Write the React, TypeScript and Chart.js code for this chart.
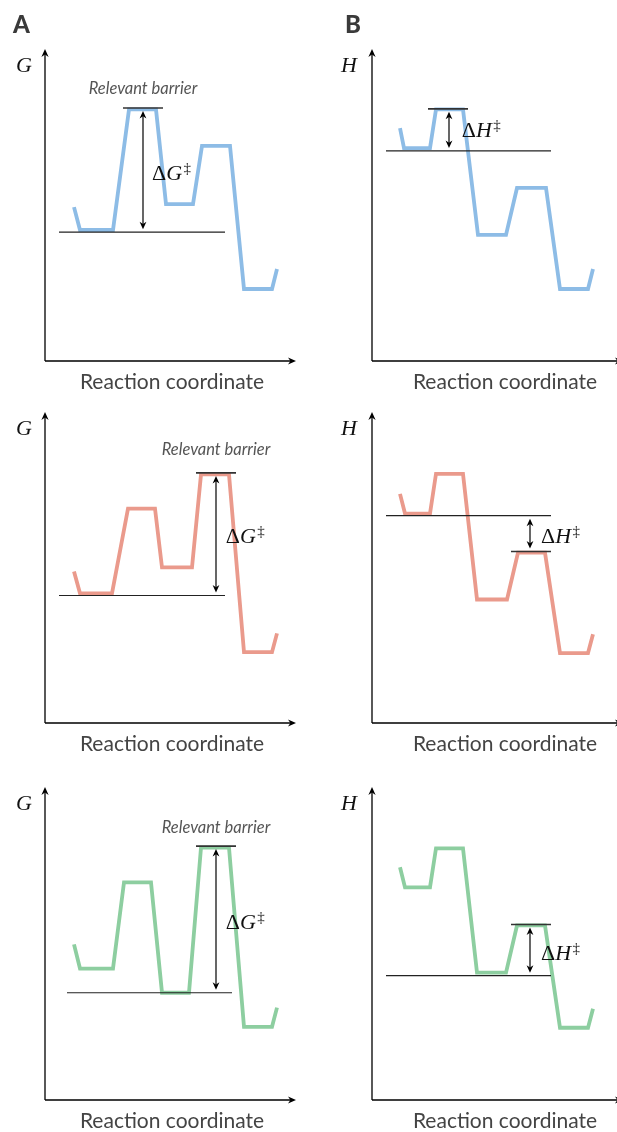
import React, { useEffect, useRef } from "react";
import { Chart, registerables } from "chart.js";

Chart.register(...registerables);

// ---- Data: reaction coordinate (x) and energy (y) for each profile ----
const X_A1 = [1.16, 1.4, 2.72, 3.36, 4.44, 4.84, 5.92, 6.28, 7.4, 7.96, 9.08, 9.28];
const Y_A1 = [4.98, 4.24, 4.24, 8.14, 8.14, 5.08, 5.08, 6.96, 6.96, 2.33, 2.33, 2.98];
const X_A2 = [1.16, 1.4, 2.68, 3.32, 4.4, 4.68, 5.88, 6.24, 7.36, 7.96, 9.08, 9.28];
const Y_A2 = [4.92, 4.21, 4.21, 6.96, 6.96, 5.05, 5.05, 8.07, 8.07, 2.3, 2.3, 2.91];
const X_A3 = [1.16, 1.4, 2.72, 3.16, 4.24, 4.68, 5.76, 6.24, 7.36, 7.96, 9.08, 9.28];
const Y_A3 = [5.02, 4.24, 4.24, 7.02, 7.02, 3.46, 3.46, 8.14, 8.14, 2.36, 2.36, 2.98];
const X_B1 = [1.12, 1.28, 2.32, 2.56, 3.64, 4.24, 5.36, 5.8, 6.96, 7.52, 8.64, 8.84];
const Y_B1 = [7.54, 6.89, 6.89, 8.14, 8.14, 4.08, 4.08, 5.6, 5.6, 2.33, 2.33, 2.98];
const X_B2 = [1.12, 1.32, 2.32, 2.56, 3.64, 4.2, 5.4, 5.84, 6.92, 7.52, 8.64, 8.84];
const Y_B2 = [7.44, 6.8, 6.8, 8.09, 8.09, 4.01, 4.01, 5.53, 5.53, 2.27, 2.27, 2.88];
const X_B3 = [1.12, 1.32, 2.32, 2.56, 3.64, 4.2, 5.36, 5.8, 6.92, 7.52, 8.64, 8.84];
const Y_B3 = [7.51, 6.86, 6.86, 8.12, 8.12, 4.11, 4.11, 5.63, 5.63, 2.33, 2.33, 2.94];

// reference level (y) and its x span, barrier level (y) and its x span
const REF_LEVELS = [4.17, 4.14, 3.46, 6.8, 6.73, 4.01];
const REF_SPANS = [[0.56, 7.2], [0.56, 7.2], [0.88, 7.48], [0.56, 7.16], [0.56, 7.16], [0.56, 7.16]];
const BARRIER_LEVELS = [8.19, 8.12, 8.19, 8.16, 5.57, 5.66];
const BARRIER_SPANS = [[3.12, 4.72], [6.04, 7.64], [6.04, 7.64], [2.24, 3.84], [5.56, 7.16], [5.56, 7.16]];
const ARROW_X = [3.92, 6.84, 6.84, 3.08, 6.32, 6.32];
// delta label anchor (left x, baseline y)
const DELTA_X = [4.28, 7.23, 7.23, 3.59, 6.76, 6.76];
const DELTA_Y = [5.86, 5.83, 5.53, 7.25, 5.86, 4.53];
const DELTA_SYMBOL = ["G", "G", "G", "H", "H", "H"];
const RELEVANT_Y = [8.8, 8.87, 8.8, null, null, null];

const AXIS_TITLE = "Reaction coordinate";
const RELEVANT_TEXT = "Relevant barrier";

const BLUE = "rgb(141,188,230)";
const RED = "rgb(234,154,140)";
const GREEN = "rgb(141,206,160)";

type PanelCfg = {
  xs: number[];
  ys: number[];
  idx: number;
  color: string;
  left: number;
  top: number;
  width: number;
  height: number;
  pad: { left: number; right: number; top: number; bottom: number };
  letter: string | null;
  letterDx: number;
  axisSym: string;
  titleDx: number;
};

const COL_A = { left: 0, width: 308, padL: 45, padR: 13 };
const COL_B = { left: 308, width: 320, padL: 64, padR: 6 };
const ROWS = [
  { top: 0, height: 395, padT: 52, padB: 34 },
  { top: 395, height: 370, padT: 20, padB: 42 },
  { top: 765, height: 367, padT: 25, padB: 32 },
];

function mk(
  xs: number[], ys: number[], idx: number, color: string,
  col: typeof COL_A, row: typeof ROWS[0], letter: string | null, letterDx: number, axisSym: string, titleDx: number
): PanelCfg {
  return {
    xs, ys, idx, color,
    left: col.left, top: row.top, width: col.width, height: row.height,
    pad: { left: col.padL, right: col.padR, top: row.padT, bottom: row.padB },
    letter, letterDx, axisSym, titleDx,
  };
}

const PANELS: PanelCfg[] = [
  mk(X_A1, Y_A1, 0, BLUE, COL_A, ROWS[0], "A", -32, "G", 127),
  mk(X_A2, Y_A2, 1, RED, COL_A, ROWS[1], null, 0, "G", 127),
  mk(X_A3, Y_A3, 2, GREEN, COL_A, ROWS[2], null, 0, "G", 127),
  mk(X_B1, Y_B1, 3, BLUE, COL_B, ROWS[0], "B", -27, "H", 133),
  mk(X_B2, Y_B2, 4, RED, COL_B, ROWS[1], null, 0, "H", 133),
  mk(X_B3, Y_B3, 5, GREEN, COL_B, ROWS[2], null, 0, "H", 133),
];

function arrowHead(ctx: CanvasRenderingContext2D, tx: number, ty: number, dx: number, dy: number, len: number, half: number) {
  const bx = tx - dx * len;
  const by = ty - dy * len;
  const px = -dy;
  const py = dx;
  ctx.beginPath();
  ctx.moveTo(tx, ty);
  ctx.lineTo(bx + px * half, by + py * half);
  ctx.lineTo(tx - dx * len * 0.7, ty - dy * len * 0.7);
  ctx.lineTo(bx - px * half, by - py * half);
  ctx.closePath();
  ctx.fill();
}

function Panel({ cfg }: { cfg: PanelCfg }) {
  const ref = useRef<HTMLCanvasElement | null>(null);
  useEffect(() => {
    if (!ref.current) return;
    const i = cfg.idx;
    const profile = cfg.xs.map((x, k) => ({ x, y: cfg.ys[k] }));
    const refLine = REF_SPANS[i].map((x) => ({ x, y: REF_LEVELS[i] }));
    const barLine = BARRIER_SPANS[i].map((x) => ({ x, y: BARRIER_LEVELS[i] }));

    const annot = {
      id: "annot" + i,
      afterDraw(chart: any) {
        const ctx: CanvasRenderingContext2D = chart.ctx;
        const a = chart.chartArea;
        const sx = chart.scales.x;
        const sy = chart.scales.y;
        ctx.save();
        // axes
        ctx.strokeStyle = "#000";
        ctx.fillStyle = "#000";
        ctx.lineWidth = 1.3;
        ctx.beginPath();
        ctx.moveTo(a.left, a.bottom);
        ctx.lineTo(a.right - 4, a.bottom);
        ctx.moveTo(a.left, a.bottom);
        ctx.lineTo(a.left, a.top - 3 + 4);
        ctx.stroke();
        arrowHead(ctx, a.right + 1, a.bottom, 1, 0, 8, 3.6);
        arrowHead(ctx, a.left, a.top - 3, 0, -1, 8, 3.6);

        // delta arrow
        const ax = sx.getPixelForValue(ARROW_X[i]);
        const yb = sy.getPixelForValue(BARRIER_LEVELS[i]);
        const yr = sy.getPixelForValue(REF_LEVELS[i]);
        const dir = yr > yb ? 1 : -1;
        const t1 = yb + dir * 3;
        const t2 = yr - dir * 3;
        ctx.lineWidth = 1.2;
        ctx.beginPath();
        ctx.moveTo(ax, t1 + dir * 5);
        ctx.lineTo(ax, t2 - dir * 5);
        ctx.stroke();
        arrowHead(ctx, ax, t1, 0, -dir, 7.5, 3.4);
        arrowHead(ctx, ax, t2, 0, dir, 7.5, 3.4);

        // delta label
        const lx = sx.getPixelForValue(DELTA_X[i]);
        const ly = sy.getPixelForValue(DELTA_Y[i]);
        ctx.textBaseline = "alphabetic";
        ctx.textAlign = "left";
        ctx.fillStyle = "#111";
        ctx.font = "22px 'Liberation Serif'";
        ctx.fillText("\u0394", lx, ly);
        let w = ctx.measureText("\u0394").width;
        ctx.font = "italic 22px 'Liberation Serif'";
        ctx.fillText(DELTA_SYMBOL[i], lx + w, ly);
        w += ctx.measureText(DELTA_SYMBOL[i]).width;
        ctx.font = "15px 'Liberation Serif'";
        ctx.fillText("\u2021", lx + w + 1.5, ly - 7);

        // relevant barrier
        const ry = RELEVANT_Y[i];
        if (ry !== null) {
          const cx = sx.getPixelForValue((BARRIER_SPANS[i][0] + BARRIER_SPANS[i][1]) / 2);
          ctx.font = "italic 16.5px Lato";
          ctx.fillStyle = "#555";
          ctx.textAlign = "center";
          ctx.textBaseline = "middle";
          ctx.fillText(RELEVANT_TEXT, cx, sy.getPixelForValue(ry));
        }

        // axis symbol
        ctx.font = "italic 22px 'Liberation Serif'";
        ctx.fillStyle = "#111";
        ctx.textAlign = "right";
        ctx.textBaseline = "alphabetic";
        ctx.fillText(cfg.axisSym, a.left - (cfg.axisSym === "G" ? 13 : 15), a.top + 20);

        // axis title
        ctx.font = "21px Lato";
        ctx.fillStyle = "#444";
        ctx.textAlign = "center";
        ctx.fillText(AXIS_TITLE, a.left + cfg.titleDx, a.bottom + 28);

        // panel letter
        if (cfg.letter) {
          ctx.font = "900 24px Lato";
          ctx.fillStyle = "#3a3a3a";
          ctx.textAlign = "left";
          ctx.fillText(cfg.letter, a.left + cfg.letterDx, 33 - cfg.top);
        }
        ctx.restore();
      },
    };

    const chart = new Chart(ref.current, {
      type: "scatter",
      data: {
        datasets: [
          { data: barLine, borderColor: "#333", borderWidth: 1.6, showLine: true, pointRadius: 0 },
          { data: refLine, borderColor: "#222", borderWidth: 1.2, showLine: true, pointRadius: 0 },
          {
            data: profile,
            borderColor: cfg.color,
            borderWidth: 3.8,
            showLine: true,
            pointRadius: 0,
            borderJoinStyle: "miter",
            borderCapStyle: "butt",
          },
        ],
      },
      options: {
        responsive: false,
        animation: false,
        events: [],
        layout: { padding: cfg.pad },
        scales: {
          x: { type: "linear", min: 0, max: 10, display: false },
          y: { type: "linear", min: 0, max: 10, display: false },
        },
        plugins: { legend: { display: false }, tooltip: { enabled: false } },
      },
      plugins: [annot],
    } as any);
    return () => chart.destroy();
  }, [cfg]);
  return (
    <canvas
      ref={ref}
      width={cfg.width}
      height={cfg.height}
      style={{ position: "absolute", left: cfg.left, top: cfg.top, width: cfg.width, height: cfg.height }}
    />
  );
}

export default function App() {
  return (
    <div
      style={{
        position: "absolute",
        left: 0,
        top: 0,
        width: 617,
        height: 1132,
        overflow: "hidden",
        background: "#fff",
      }}
    >
      {PANELS.map((p) => (
        <Panel key={p.idx} cfg={p} />
      ))}
    </div>
  );
}
